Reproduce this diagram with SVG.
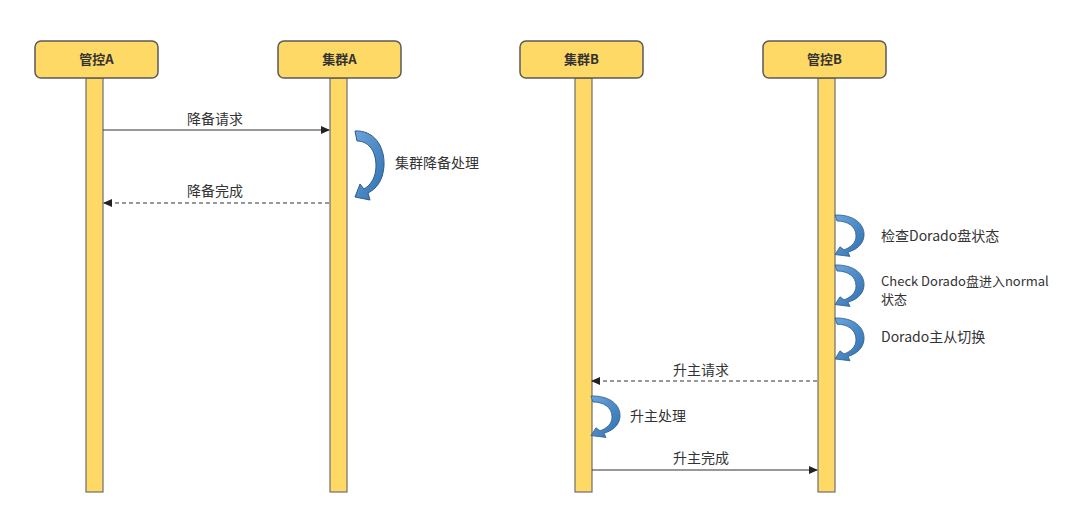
<svg xmlns="http://www.w3.org/2000/svg" width="1069" height="520" viewBox="0 0 1069 520">
<defs>
<style>
.box{fill:#FFD966;stroke:#5a5a5a;stroke-width:1.5}
.bar{fill:#FFD966;stroke:#6e6e6e;stroke-width:1.2}
.hd{font-family:"Noto Sans CJK SC","Noto Sans",sans-serif;font-size:13px;font-weight:bold;fill:#333;text-anchor:middle}
.lb{font-family:"Noto Sans CJK SC","Noto Sans",sans-serif;font-size:14px;fill:#333}
.sm{font-size:13px}
.mid{text-anchor:middle}
.msg{stroke:#333;stroke-width:1.2;fill:none}
.dash{stroke-dasharray:4 3}
.curl{fill:url(#bg);stroke:#2f5a8a;stroke-width:1}
</style>
<linearGradient id="bg" x1="0" y1="0" x2="1" y2="1">
<stop offset="0" stop-color="#6aa5dc"/>
<stop offset="1" stop-color="#2f6fb0"/>
</linearGradient>
<marker id="ah" markerWidth="9" markerHeight="8" refX="8" refY="4" orient="auto" markerUnits="userSpaceOnUse">
<path d="M0,0 L9,4 L0,8 Z" fill="#222"/>
</marker>
<path id="curlp" d="M0,0 C18,-1 30,14 29,35 C28,50 21,58 13,62 L15,69 L0,66 L5,53 L9,58 C16,54 21,46 21,35 C21,18 12,10 2,10 Z"/>
</defs>
<rect width="1069" height="520" fill="#ffffff"/>

<g id="lifeline-guanKongA">
<rect class="bar" x="86" y="78" width="17" height="414"/>
<rect class="box" x="35" y="41" width="123" height="37" rx="6"/>
<text class="hd" x="96.5" y="64">管控A</text>
</g>
<g id="lifeline-jiQunA">
<rect class="bar" x="330" y="78" width="17" height="414"/>
<rect class="box" x="278" y="41" width="123" height="37" rx="6"/>
<text class="hd" x="339.5" y="64">集群A</text>
</g>
<g id="lifeline-jiQunB">
<rect class="bar" x="575" y="78" width="17" height="414"/>
<rect class="box" x="520" y="41" width="123" height="37" rx="6"/>
<text class="hd" x="581.5" y="64">集群B</text>
</g>
<g id="lifeline-guanKongB">
<rect class="bar" x="818" y="78" width="17" height="414"/>
<rect class="box" x="763" y="41" width="123" height="37" rx="6"/>
<text class="hd" x="824.5" y="64">管控B</text>
</g>

<g id="connectors">
<line class="msg" x1="103" y1="130" x2="329" y2="130" marker-end="url(#ah)"/>
<line class="msg dash" x1="329" y1="203" x2="104" y2="203" marker-end="url(#ah)"/>
<line class="msg dash" x1="817" y1="381" x2="592" y2="381" marker-end="url(#ah)"/>
<line class="msg" x1="592" y1="470" x2="817" y2="470" marker-end="url(#ah)"/>
<use href="#curlp" class="curl" transform="translate(355,131)"/>
<use href="#curlp" class="curl" transform="translate(835,215) scale(1,0.6)"/>
<use href="#curlp" class="curl" transform="translate(835,265) scale(1,0.6)"/>
<use href="#curlp" class="curl" transform="translate(835,318) scale(1,0.62)"/>
<use href="#curlp" class="curl" transform="translate(591,396) scale(1,0.6)"/>
</g>

<g id="labels">
<text class="lb mid" x="215" y="124">降备请求</text>
<text class="lb mid" x="215" y="196">降备完成</text>
<text class="lb" x="395" y="168">集群降备处理</text>
<text class="lb" x="881" y="241">检查Dorado盘状态</text>
<text class="lb sm" x="881" y="286">Check Dorado盘进入normal</text>
<text class="lb sm" x="881" y="304">状态</text>
<text class="lb" x="881" y="342">Dorado主从切换</text>
<text class="lb mid" x="701" y="375">升主请求</text>
<text class="lb" x="630" y="421">升主处理</text>
<text class="lb mid" x="701" y="463">升主完成</text>
</g>
</svg>
